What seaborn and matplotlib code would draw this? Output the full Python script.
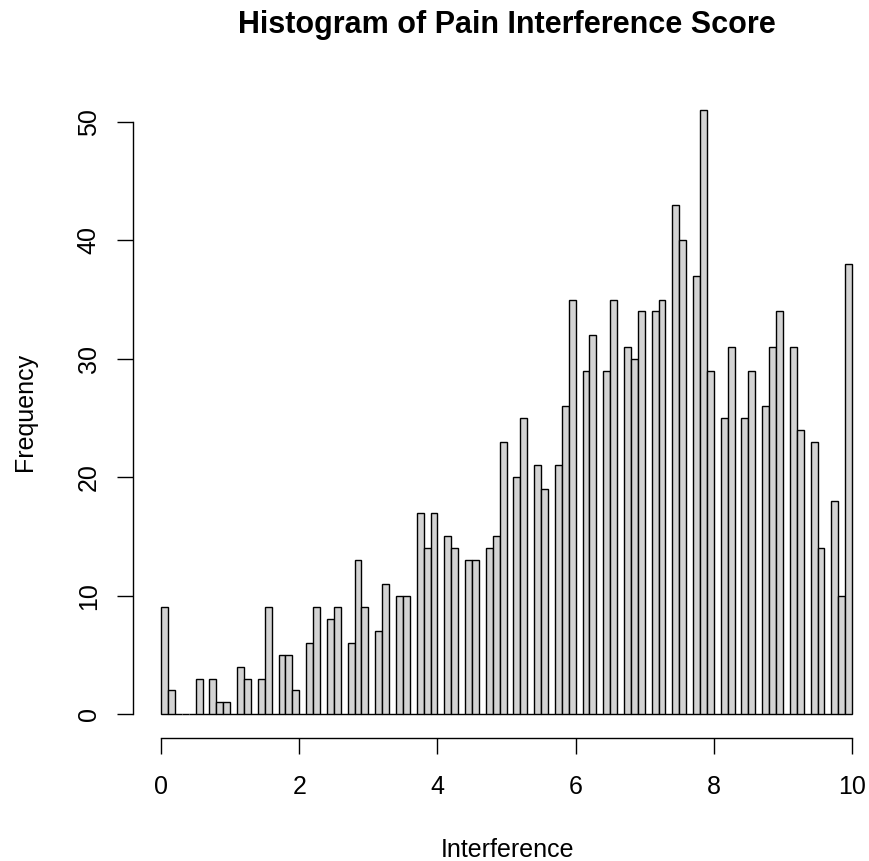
import numpy as np
import pandas as pd
import matplotlib
matplotlib.use("Agg")
import matplotlib.pyplot as plt
import seaborn as sns

# Histogram counts per 0.1-wide bin from 0 to 10 (100 bins)
bin_width = 0.1
bin_range = (0, 10)
counts = [9, 2, 0, 0, 0, 3, 0, 3, 1, 1,
          0, 4, 3, 0, 3, 9, 0, 5, 5, 2,
          0, 6, 9, 0, 8, 9, 0, 6, 13, 9,
          0, 7, 11, 0, 10, 10, 0, 17, 14, 17,
          0, 15, 14, 0, 13, 13, 0, 14, 15, 23,
          0, 20, 25, 0, 21, 19, 0, 21, 26, 35,
          0, 29, 32, 0, 29, 35, 0, 31, 30, 34,
          0, 34, 35, 0, 43, 40, 0, 37, 51, 29,
          0, 25, 31, 0, 25, 29, 0, 26, 31, 34,
          0, 31, 24, 0, 23, 14, 0, 18, 10, 38]
x_ticks = [0, 2, 4, 6, 8, 10]
y_ticks = [0, 10, 20, 30, 40, 50]

centers = [round(bin_range[0] + bin_width * (i + 0.5), 3) for i in range(len(counts))]
df = pd.DataFrame({"Interference": centers, "count": counts})

sns.set_style("white", {"xtick.bottom": True, "ytick.left": True,
                        "text.color": "black", "axes.labelcolor": "black",
                        "xtick.color": "black", "ytick.color": "black"})
plt.rcParams["font.family"] = ["Liberation Sans", "DejaVu Sans"]
plt.rcParams["text.color"] = "black"

W, H = 869, 861
fig = plt.figure(figsize=(W / 100, H / 100), dpi=100)
ax = fig.add_axes([133.4 / W, (H - 738.2) / H, 746.3 / W, (738.2 - 86) / H])

sns.histplot(data=df, x="Interference", weights="count", binwidth=bin_width,
             binrange=bin_range, stat="count", color="#D3D3D3", alpha=1.0,
             edgecolor="black", linewidth=1.0, ax=ax)

ax.set_xlim(-0.4, 10.4)
ax.set_ylim(-2.04, 53.04)
ax.set_xlabel("")
ax.set_ylabel("")

for s in ["top", "right"]:
    ax.spines[s].set_visible(False)
ax.spines["left"].set_bounds(0, 50)
ax.spines["bottom"].set_bounds(0, 10)
for s in ["left", "bottom"]:
    ax.spines[s].set_linewidth(1.0)
    ax.spines[s].set_color("black")

ax.set_xticks(x_ticks)
ax.set_yticks(y_ticks)
ax.set_xticklabels([str(v) for v in x_ticks])
ax.set_yticklabels([str(v) for v in y_ticks], rotation=90, va="center")
ax.tick_params(axis="both", direction="out", length=11.5, width=1.0,
               colors="black", labelcolor="black", labelsize=18,
               bottom=True, left=True)
ax.tick_params(axis="x", pad=15)
ax.tick_params(axis="y", pad=12)

fig.text(506.5 / W, (H - 33) / H, "Histogram of Pain Interference Score",
         ha="center", va="baseline", fontsize=22, fontweight="bold",
         color="black")
fig.text(507 / W, (H - 857) / H, "Interference", ha="center", va="baseline",
         fontsize=18, color="black")
fig.text(25 / W, (H - 412) / H, "Frequency", ha="center", va="center",
         rotation=90, fontsize=18, color="black")

fig.savefig("out.png", dpi=100)
